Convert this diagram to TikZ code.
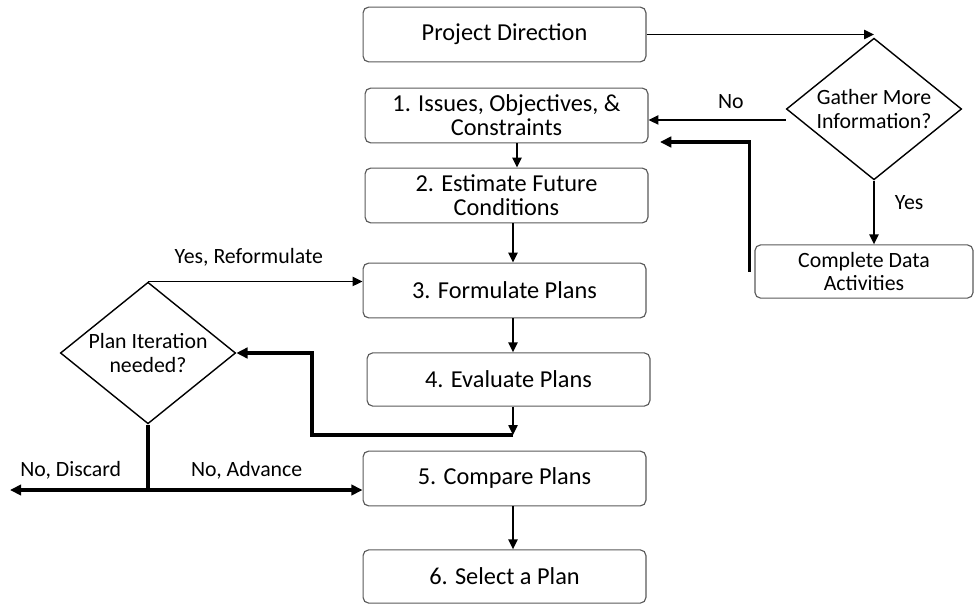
\documentclass[tikz,border=0pt]{standalone}
\usepackage{fontspec}
\setmainfont{Carlito}
\usepackage{tikz}
\usetikzlibrary{positioning}
\usetikzlibrary{shapes.geometric}
\usetikzlibrary{arrows.meta}

\begin{document}
\begin{tikzpicture}[x=0.025cm, y=-0.025cm,
  stage/.style={draw=black!65, line width=0.8pt, rounded corners=4pt,
                minimum width=7.07cm, minimum height=1.37cm, inner sep=0pt,
                align=center, font=\fontsize{17.3}{17}\selectfont},
  decision/.style={draw, line width=1pt, diamond, aspect=1.25, inner sep=-2pt,
                   minimum width=4.38cm, minimum height=3.54cm,
                   align=center, font=\fontsize{15.5}{16.5}\selectfont},
  lbl/.style={font=\fontsize{15.5}{17}\selectfont},
  flowarrow/.style={line width=1.1pt, -{Triangle[length=7pt,width=6.5pt]}},
  fatline/.style={line width=2.2pt},
  fatarrow/.style={line width=2.2pt, -{Triangle[length=8pt,width=7.5pt]}}]
  \useasboundingbox (0,0) rectangle (976,605);

  % Steps
  \node[stage] (direction) at (504.5,34.5) {Project Direction};
  \node[stage] (issues) at (506.5,115.5) {1. Issues, Objectives, \&\\Constraints};
  \node[stage] (future) at (506.5,195.5) {2. Estimate Future\\Conditions};
  \node[stage] (formulate) at (504.5,290.5) {3. Formulate Plans};
  \node[stage, minimum height=1.33cm] (evaluate) at (508.5,379.5) {4. Evaluate Plans};
  \node[stage] (compare) at (504.5,478.5) {5. Compare Plans};
  \node[stage, minimum height=1.33cm] (select) at (504.5,576.5) {6. Select a Plan};
  \node[stage, minimum width=5.45cm, minimum height=1.33cm,
        font=\fontsize{15.5}{17}\selectfont] (data) at (864,271.5) {Complete Data\\Activities};

  % Decisions
  \node[decision] (gather) at (874,109) {Gather More\\Information?};
  \node[decision] (iterate) at (148,353) {Plan Iteration\\needed?};

  % Helper points
  \coordinate (spinea) at (517,0);
  \coordinate (spine) at (513,0);
  \coordinate (loop) at (513,435);
  \coordinate (loopleft) at (312,435);
  \coordinate (backin) at (660,142);
  \coordinate (split) at (148,490);
  \coordinate (discard) at (10,490);

  % Data gathering
  \draw[flowarrow] (direction.east) -- (direction.east -| gather.north);
  \draw[flowarrow] ([yshift=-7.8pt]gather.west) -- ([yshift=-7.8pt]gather.west -| issues.east)
    node[lbl, pos=0.4, above=4pt] {No};
  \draw[flowarrow] (gather.south) -- (gather.south |- data.north)
    node[lbl, pos=0.35, right=11pt] {Yes};
  \draw[fatarrow] ([xshift=-3.6pt]data.west) |- (backin);

  % Main flow
  \draw[flowarrow] (issues.south -| spinea) -- (future.north -| spinea);
  \draw[flowarrow] (future.south -| spine) -- (formulate.north -| spine);
  \draw[flowarrow] (formulate.south -| spine) -- (evaluate.north -| spine);
  \draw[flowarrow] (evaluate.south -| spine) -- (loop);
  \draw[fatarrow] (loop) -- (loopleft) |- (iterate.east);
  \draw[flowarrow] (compare.south -| spine) -- (select.north -| spine);

  % Iteration outcomes
  \draw[flowarrow] (iterate.north) -- (iterate.north -| formulate.west)
    node[lbl, pos=0.47, above=7pt] {Yes, Reformulate};
  \draw[fatline] (iterate.south) -- (split);
  \draw[fatarrow] (split) -- (discard)
    node[lbl, pos=0.56, above=3pt] {No, Discard};
  \draw[fatarrow] (split) -- (split -| compare.west)
    node[lbl, pos=0.46, above=3pt] {No, Advance};
\end{tikzpicture}
\end{document}
